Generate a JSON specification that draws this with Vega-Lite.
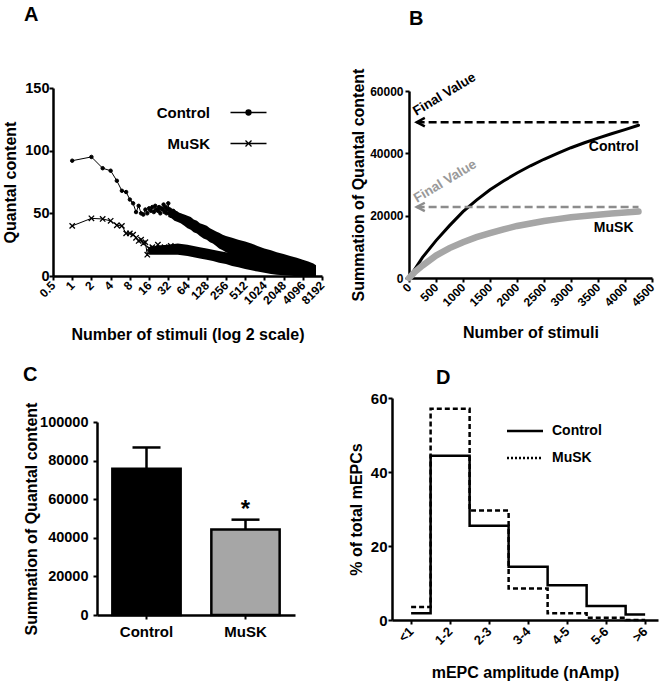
{
  "$schema": "https://vega.github.io/schema/vega-lite/v6.json",
  "background": "white",
  "padding": {"left": 2, "top": 5, "right": 2, "bottom": 2},
  "config": {
    "font": "Liberation Sans",
    "view": {"stroke": null},
    "axis": {"domainColor": "black", "domainWidth": 2.5, "tickColor": "black", "tickWidth": 2, "tickSize": 4, "labelColor": "black", "labelFontWeight": "bold", "labelFont": "Liberation Sans", "titleFont": "Liberation Sans", "titleFontSize": 16, "titleFontWeight": "bold", "titleColor": "black", "grid": false, "labelPadding": 2, "labelOverlap": false, "labelFlush": false},
    "title": {"font": "Liberation Sans", "fontSize": 20, "fontWeight": "bold", "anchor": "start", "frame": "group", "color": "black", "baseline": "alphabetic"},
    "legend": {"labelFont": "Liberation Sans", "labelFontWeight": "bold", "labelColor": "black", "labelFontSize": 14}
  },
  "datasets": {
    "aPts": [
      {"s": "Control", "n": 1, "q": 92}, {"s": "Control", "n": 2, "q": 95}, {"s": "Control", "n": 3, "q": 86}, {"s": "Control", "n": 4, "q": 84}, {"s": "Control", "n": 5, "q": 76}, {"s": "Control", "n": 6, "q": 68}, {"s": "Control", "n": 7, "q": 67}, {"s": "Control", "n": 8, "q": 61}, {"s": "Control", "n": 9, "q": 58}, {"s": "Control", "n": 10, "q": 51}, {"s": "Control", "n": 11, "q": 56}, {"s": "Control", "n": 12, "q": 50}, {"s": "Control", "n": 13, "q": 49}, {"s": "Control", "n": 14, "q": 53}, {"s": "Control", "n": 15, "q": 50}, {"s": "Control", "n": 16, "q": 54}, {"s": "Control", "n": 17, "q": 52}, {"s": "Control", "n": 18, "q": 55}, {"s": "Control", "n": 19, "q": 51}, {"s": "Control", "n": 20, "q": 56}, {"s": "Control", "n": 21, "q": 53}, {"s": "Control", "n": 22, "q": 52}, {"s": "Control", "n": 23, "q": 55}, {"s": "Control", "n": 24, "q": 50}, {"s": "Control", "n": 25, "q": 54}, {"s": "Control", "n": 26, "q": 53}, {"s": "Control", "n": 27, "q": 57}, {"s": "Control", "n": 28, "q": 51}, {"s": "Control", "n": 29, "q": 55}, {"s": "Control", "n": 30, "q": 50}, {"s": "Control", "n": 31, "q": 53}, {"s": "Control", "n": 32, "q": 58}, {"s": "Control", "n": 33, "q": 50}, {"s": "Control", "n": 34, "q": 53}, {"s": "Control", "n": 36, "q": 48}, {"s": "Control", "n": 38, "q": 52}, {"s": "Control", "n": 40, "q": 47}, {"s": "Control", "n": 43, "q": 50}, {"s": "Control", "n": 46, "q": 46}, {"s": "Control", "n": 50, "q": 48},
      {"s": "MuSK", "n": 1, "q": 40}, {"s": "MuSK", "n": 2, "q": 46}, {"s": "MuSK", "n": 3, "q": 45.5}, {"s": "MuSK", "n": 4, "q": 44}, {"s": "MuSK", "n": 5, "q": 40.5}, {"s": "MuSK", "n": 6, "q": 40}, {"s": "MuSK", "n": 7, "q": 34}, {"s": "MuSK", "n": 8, "q": 34}, {"s": "MuSK", "n": 9, "q": 33}, {"s": "MuSK", "n": 10, "q": 30.5}, {"s": "MuSK", "n": 11, "q": 28}, {"s": "MuSK", "n": 12, "q": 29}, {"s": "MuSK", "n": 13, "q": 26}, {"s": "MuSK", "n": 14, "q": 27}, {"s": "MuSK", "n": 15, "q": 17}, {"s": "MuSK", "n": 16, "q": 22}, {"s": "MuSK", "n": 17, "q": 21}, {"s": "MuSK", "n": 18, "q": 23}, {"s": "MuSK", "n": 19, "q": 20}, {"s": "MuSK", "n": 20, "q": 22}, {"s": "MuSK", "n": 21, "q": 21}, {"s": "MuSK", "n": 22, "q": 25}, {"s": "MuSK", "n": 23, "q": 20}, {"s": "MuSK", "n": 24, "q": 22}, {"s": "MuSK", "n": 26, "q": 21}, {"s": "MuSK", "n": 28, "q": 23}, {"s": "MuSK", "n": 30, "q": 20}, {"s": "MuSK", "n": 32, "q": 22}, {"s": "MuSK", "n": 35, "q": 24}, {"s": "MuSK", "n": 38, "q": 21}, {"s": "MuSK", "n": 42, "q": 23}, {"s": "MuSK", "n": 46, "q": 21}
    ],
    "aBand": [
      {"s": "Control", "n": 32, "lo": 47, "hi": 56}, {"s": "Control", "n": 36, "lo": 46, "hi": 53}, {"s": "Control", "n": 40, "lo": 44, "hi": 53}, {"s": "Control", "n": 45, "lo": 43, "hi": 51}, {"s": "Control", "n": 50, "lo": 42, "hi": 50}, {"s": "Control", "n": 57, "lo": 40, "hi": 49}, {"s": "Control", "n": 64, "lo": 38, "hi": 48}, {"s": "Control", "n": 72, "lo": 37, "hi": 47}, {"s": "Control", "n": 80, "lo": 35, "hi": 45}, {"s": "Control", "n": 90, "lo": 34, "hi": 44}, {"s": "Control", "n": 100, "lo": 32, "hi": 42}, {"s": "Control", "n": 114, "lo": 30, "hi": 41}, {"s": "Control", "n": 128, "lo": 29, "hi": 40}, {"s": "Control", "n": 144, "lo": 27, "hi": 38}, {"s": "Control", "n": 160, "lo": 26, "hi": 37}, {"s": "Control", "n": 180, "lo": 24, "hi": 35.5}, {"s": "Control", "n": 200, "lo": 22, "hi": 34.5}, {"s": "Control", "n": 228, "lo": 20.5, "hi": 33}, {"s": "Control", "n": 256, "lo": 19, "hi": 32}, {"s": "Control", "n": 320, "lo": 17, "hi": 30.5}, {"s": "Control", "n": 400, "lo": 16, "hi": 29}, {"s": "Control", "n": 512, "lo": 14.5, "hi": 27.5}, {"s": "Control", "n": 640, "lo": 13, "hi": 26}, {"s": "Control", "n": 800, "lo": 11.5, "hi": 24}, {"s": "Control", "n": 1024, "lo": 10, "hi": 22}, {"s": "Control", "n": 1300, "lo": 8.5, "hi": 20.5}, {"s": "Control", "n": 1600, "lo": 7, "hi": 19}, {"s": "Control", "n": 2048, "lo": 6, "hi": 17.5}, {"s": "Control", "n": 2600, "lo": 5, "hi": 16}, {"s": "Control", "n": 3300, "lo": 4, "hi": 14.5}, {"s": "Control", "n": 4096, "lo": 3, "hi": 13}, {"s": "Control", "n": 5000, "lo": 2, "hi": 11.5}, {"s": "Control", "n": 6000, "lo": 1, "hi": 10}, {"s": "Control", "n": 6600, "lo": 0.5, "hi": 8.5},
      {"s": "MuSK", "n": 16, "lo": 17, "hi": 23}, {"s": "MuSK", "n": 20, "lo": 17, "hi": 24}, {"s": "MuSK", "n": 24, "lo": 17, "hi": 24.5}, {"s": "MuSK", "n": 32, "lo": 17, "hi": 25}, {"s": "MuSK", "n": 45, "lo": 17, "hi": 26}, {"s": "MuSK", "n": 64, "lo": 16, "hi": 25}, {"s": "MuSK", "n": 80, "lo": 15, "hi": 24}, {"s": "MuSK", "n": 100, "lo": 14, "hi": 23}, {"s": "MuSK", "n": 128, "lo": 13, "hi": 22}, {"s": "MuSK", "n": 160, "lo": 12, "hi": 21}, {"s": "MuSK", "n": 200, "lo": 10.5, "hi": 20}, {"s": "MuSK", "n": 256, "lo": 9.5, "hi": 19}, {"s": "MuSK", "n": 320, "lo": 8, "hi": 18}, {"s": "MuSK", "n": 400, "lo": 7, "hi": 17}, {"s": "MuSK", "n": 512, "lo": 5.5, "hi": 16}, {"s": "MuSK", "n": 640, "lo": 4.5, "hi": 15}, {"s": "MuSK", "n": 800, "lo": 3.5, "hi": 14}, {"s": "MuSK", "n": 1024, "lo": 2.5, "hi": 13}, {"s": "MuSK", "n": 1300, "lo": 1.5, "hi": 12}, {"s": "MuSK", "n": 1600, "lo": 1, "hi": 11}, {"s": "MuSK", "n": 2048, "lo": 0.5, "hi": 10}, {"s": "MuSK", "n": 3000, "lo": 0, "hi": 8.5}, {"s": "MuSK", "n": 4096, "lo": 0, "hi": 7}, {"s": "MuSK", "n": 5000, "lo": 0, "hi": 6}, {"s": "MuSK", "n": 6600, "lo": 0, "hi": 5}
    ],
    "bCurve": [
      {"s": "Control", "n": 0, "v": 0}, {"s": "Control", "n": 100, "v": 2600}, {"s": "Control", "n": 250, "v": 6600}, {"s": "Control", "n": 500, "v": 12000}, {"s": "Control", "n": 750, "v": 16800}, {"s": "Control", "n": 1000, "v": 21300}, {"s": "Control", "n": 1250, "v": 25000}, {"s": "Control", "n": 1500, "v": 28300}, {"s": "Control", "n": 1750, "v": 31100}, {"s": "Control", "n": 2000, "v": 33700}, {"s": "Control", "n": 2250, "v": 36000}, {"s": "Control", "n": 2500, "v": 38100}, {"s": "Control", "n": 2750, "v": 40000}, {"s": "Control", "n": 3000, "v": 41800}, {"s": "Control", "n": 3250, "v": 43400}, {"s": "Control", "n": 3500, "v": 44900}, {"s": "Control", "n": 3750, "v": 46300}, {"s": "Control", "n": 4000, "v": 47600}, {"s": "Control", "n": 4250, "v": 49000},
      {"s": "MuSK", "n": 0, "v": 0}, {"s": "MuSK", "n": 100, "v": 1800}, {"s": "MuSK", "n": 250, "v": 4000}, {"s": "MuSK", "n": 500, "v": 7200}, {"s": "MuSK", "n": 750, "v": 9600}, {"s": "MuSK", "n": 1000, "v": 11500}, {"s": "MuSK", "n": 1250, "v": 13100}, {"s": "MuSK", "n": 1500, "v": 14400}, {"s": "MuSK", "n": 1750, "v": 15600}, {"s": "MuSK", "n": 2000, "v": 16700}, {"s": "MuSK", "n": 2250, "v": 17500}, {"s": "MuSK", "n": 2500, "v": 18300}, {"s": "MuSK", "n": 2750, "v": 18900}, {"s": "MuSK", "n": 3000, "v": 19500}, {"s": "MuSK", "n": 3250, "v": 19900}, {"s": "MuSK", "n": 3500, "v": 20300}, {"s": "MuSK", "n": 3750, "v": 20700}, {"s": "MuSK", "n": 4000, "v": 21000}, {"s": "MuSK", "n": 4250, "v": 21300}
    ],
    "bFinal": [
      {"s": "Control", "from": 141, "to": 4250, "v": 50000, "t": "Final Value", "tn": 655, "tv": 58900},
      {"s": "MuSK", "from": 141, "to": 4250, "v": 22800, "t": "Final Value", "tn": 670, "tv": 31000}
    ],
    "bLabels": [
      {"t": "Control", "n": 3790, "v": 41900},
      {"t": "MuSK", "n": 3790, "v": 15950}
    ],
    "cBars": [
      {"g": "Control", "mean": 75800, "hi": 86800, "sig": ""},
      {"g": "MuSK", "mean": 44300, "hi": 49400, "sig": "*"}
    ],
    "dHist": [
      {"grp": "Control", "cat": "<1", "i": 0, "pct": 1.8}, {"grp": "Control", "cat": "1-2", "i": 1, "pct": 44.4}, {"grp": "Control", "cat": "2-3", "i": 2, "pct": 25.5}, {"grp": "Control", "cat": "3-4", "i": 3, "pct": 14.4}, {"grp": "Control", "cat": "4-5", "i": 4, "pct": 9.4}, {"grp": "Control", "cat": "5-6", "i": 5, "pct": 3.8}, {"grp": "Control", "cat": ">6", "i": 6, "pct": 1.5},
      {"grp": "MuSK", "cat": "<1", "i": 0, "pct": 3.5}, {"grp": "MuSK", "cat": "1-2", "i": 1, "pct": 57.1}, {"grp": "MuSK", "cat": "2-3", "i": 2, "pct": 29.6}, {"grp": "MuSK", "cat": "3-4", "i": 3, "pct": 8.5}, {"grp": "MuSK", "cat": "4-5", "i": 4, "pct": 1.8}, {"grp": "MuSK", "cat": "5-6", "i": 5, "pct": 0.6}, {"grp": "MuSK", "cat": ">6", "i": 6, "pct": 0}
    ]
  },
  "columns": 1,
  "align": "none",
  "spacing": 22,
  "resolve": {"scale": {"shape": "independent", "color": "independent", "strokeWidth": "independent"}, "legend": {"shape": "independent"}},
  "concat": [
    {
      "columns": 2,
      "align": "none",
      "spacing": 23,
      "resolve": {"scale": {"shape": "independent", "color": "independent", "strokeWidth": "independent"}, "legend": {"shape": "independent"}},
      "concat": [
        {
          "width": 269, "height": 188,
          "title": {"text": "A", "dx": -29, "offset": 55},
          "layer": [
            {
              "data": {"name": "aBand"},
              "mark": {"type": "area", "color": "black", "opacity": 1},
              "encoding": {
                "x": {"field": "n", "type": "quantitative", "scale": {"type": "log", "base": 2, "domain": [0.5, 8192], "nice": false},
                  "axis": {"values": [0.5, 1, 2, 4, 8, 16, 32, 64, 128, 256, 512, 1024, 2048, 4096, 8192], "labelExpr": "'' + datum.value", "labelAngle": -45, "labelAlign": "right", "labelBaseline": "middle", "labelFontSize": 12, "labelPadding": 3, "labelOverlap": false, "title": "Number of stimuli (log 2 scale)", "titlePadding": 20}},
                "y": {"field": "lo", "type": "quantitative", "scale": {"domain": [0, 150], "nice": false},
                  "axis": {"values": [0, 50, 100, 150], "labelFontSize": 14.5, "labelPadding": 0, "labelOverlap": false, "title": "Quantal content", "titlePadding": 6}},
                "y2": {"field": "hi"},
                "detail": {"field": "s"}
              }
            },
            {
              "data": {"name": "aPts"},
              "mark": {"type": "line", "color": "black", "strokeWidth": 1},
              "encoding": {
                "x": {"field": "n", "type": "quantitative"},
                "y": {"field": "q", "type": "quantitative"},
                "detail": {"field": "s"}
              }
            },
            {
              "data": {"name": "aPts"},
              "transform": [{"filter": "datum.s === 'Control'"}],
              "mark": {"type": "point", "filled": true, "color": "black", "stroke": "black", "strokeWidth": 1, "opacity": 1, "size": 12, "shape": "circle"},
              "encoding": {
                "x": {"field": "n", "type": "quantitative"},
                "y": {"field": "q", "type": "quantitative"}
              }
            },
            {
              "data": {"name": "aPts"},
              "transform": [{"filter": "datum.s === 'MuSK'"}],
              "mark": {"type": "point", "filled": false, "color": "black", "strokeWidth": 1.3, "opacity": 1, "size": 10, "shape": "M-1.7,-1.7L1.7,1.7M-1.7,1.7L1.7,-1.7"},
              "encoding": {
                "x": {"field": "n", "type": "quantitative"},
                "y": {"field": "q", "type": "quantitative"}
              }
            },
            {
              "data": {"name": "aPts"},
              "transform": [{"filter": "datum.n < 0"}],
              "mark": {"type": "point", "filled": false, "color": "black", "strokeWidth": 1.3, "opacity": 1, "size": 100},
              "encoding": {
                "x": {"field": "n", "type": "quantitative"},
                "y": {"field": "q", "type": "quantitative"},
                "shape": {"field": "s", "type": "nominal",
                  "scale": {"domain": ["Control", "MuSK"], "range": ["M-3.6,0L3.6,0M0.5,0A0.5,0.5,0,1,1,-0.5,0A0.5,0.5,0,1,1,0.5,0M0.25,0A0.25,0.25,0,1,1,-0.25,0A0.25,0.25,0,1,1,0.25,0M0,-0.12L0,0.12", "M-3.6,0L3.6,0M-0.6,-0.6L0.6,0.6M-0.6,0.6L0.6,-0.6"]},
                  "legend": {"orient": "none", "legendX": 188, "legendY": 17, "title": null, "padding": 0,
                    "labelAlign": "right", "labelOffset": -46, "labelFontSize": 15, "labelBaseline": "middle",
                    "symbolSize": 100, "symbolStrokeWidth": 1.3, "symbolStrokeColor": "black", "symbolOpacity": 1, "rowPadding": 15}
                }
              }
            }
          ]
        },
        {
          "width": 243, "height": 190,
          "title": {"text": "B", "dx": 0, "offset": 39.5},
          "resolve": {"scale": {"color": "independent"}},
          "layer": [
            {
              "data": {"name": "bCurve"},
              "mark": {"type": "line", "strokeCap": "round"},
              "encoding": {
                "x": {"field": "n", "type": "quantitative", "scale": {"domain": [0, 4500], "nice": false},
                  "axis": {"values": [0, 500, 1000, 1500, 2000, 2500, 3000, 3500, 4000, 4500], "format": "d", "labelAngle": -45, "labelAlign": "right", "labelBaseline": "middle", "labelFontSize": 12, "labelPadding": 3, "labelOverlap": false, "title": "Number of stimuli", "titlePadding": 16}},
                "y": {"field": "v", "type": "quantitative", "scale": {"domain": [0, 60000], "nice": false, "range": [190, 3]},
                  "axis": {"values": [0, 20000, 40000, 60000], "format": "d", "labelFontSize": 12, "labelOverlap": false, "title": "Summation of Quantal content", "titlePadding": 3}},
                "color": {"field": "s", "type": "nominal", "scale": {"domain": ["Control", "MuSK"], "range": ["black", "#a6a6a6"]}, "legend": null},
                "strokeWidth": {"field": "s", "type": "nominal", "scale": {"domain": ["Control", "MuSK"], "range": [3, 6.5]}, "legend": null}
              }
            },
            {
              "data": {"name": "bFinal"},
              "mark": {"type": "rule", "strokeWidth": 2.5, "strokeDash": [8, 4]},
              "encoding": {
                "x": {"field": "from", "type": "quantitative", "axis": {"values": [0, 500, 1000, 1500, 2000, 2500, 3000, 3500, 4000, 4500], "format": "d", "labelAngle": -45, "labelAlign": "right", "labelBaseline": "middle", "labelFontSize": 12, "labelPadding": 3, "labelOverlap": false, "title": "Number of stimuli", "titlePadding": 16}},
                "x2": {"field": "to"},
                "y": {"field": "v", "type": "quantitative", "axis": {"values": [0, 20000, 40000, 60000], "format": "d", "labelFontSize": 12, "labelOverlap": false, "title": "Summation of Quantal content", "titlePadding": 3}},
                "color": {"field": "s", "type": "nominal", "scale": {"domain": ["Control", "MuSK"], "range": ["black", "#8c8c8c"]}, "legend": null}
              }
            },
            {
              "data": {"name": "bFinal"},
              "mark": {"type": "point", "filled": false, "strokeWidth": 2.5, "opacity": 1, "size": 49, "shape": "M1.2,-1.2L-1.1,0L1.2,1.2", "xOffset": 4},
              "encoding": {
                "x": {"field": "from", "type": "quantitative", "axis": {"values": [0, 500, 1000, 1500, 2000, 2500, 3000, 3500, 4000, 4500], "format": "d", "labelAngle": -45, "labelAlign": "right", "labelBaseline": "middle", "labelFontSize": 12, "labelPadding": 3, "labelOverlap": false, "title": "Number of stimuli", "titlePadding": 16}},
                "y": {"field": "v", "type": "quantitative", "axis": {"values": [0, 20000, 40000, 60000], "format": "d", "labelFontSize": 12, "labelOverlap": false, "title": "Summation of Quantal content", "titlePadding": 3}},
                "color": {"field": "s", "type": "nominal", "scale": {"domain": ["Control", "MuSK"], "range": ["black", "#8c8c8c"]}, "legend": null}
              }
            },
            {
              "data": {"name": "bFinal"},
              "mark": {"type": "text", "angle": -31, "fontSize": 13.5, "fontWeight": "bold", "align": "center", "baseline": "middle"},
              "encoding": {
                "x": {"field": "tn", "type": "quantitative", "axis": {"values": [0, 500, 1000, 1500, 2000, 2500, 3000, 3500, 4000, 4500], "format": "d", "labelAngle": -45, "labelAlign": "right", "labelBaseline": "middle", "labelFontSize": 12, "labelPadding": 3, "labelOverlap": false, "title": "Number of stimuli", "titlePadding": 16}},
                "y": {"field": "tv", "type": "quantitative", "axis": {"values": [0, 20000, 40000, 60000], "format": "d", "labelFontSize": 12, "labelOverlap": false, "title": "Summation of Quantal content", "titlePadding": 3}},
                "text": {"field": "t"},
                "color": {"field": "s", "type": "nominal", "scale": {"domain": ["Control", "MuSK"], "range": ["black", "#999999"]}, "legend": null}
              }
            },
            {
              "data": {"name": "bLabels"},
              "mark": {"type": "text", "fontSize": 14, "fontWeight": "bold", "align": "center", "baseline": "middle", "color": "black"},
              "encoding": {
                "x": {"field": "n", "type": "quantitative", "axis": {"values": [0, 500, 1000, 1500, 2000, 2500, 3000, 3500, 4000, 4500], "format": "d", "labelAngle": -45, "labelAlign": "right", "labelBaseline": "middle", "labelFontSize": 12, "labelPadding": 3, "labelOverlap": false, "title": "Number of stimuli", "titlePadding": 16}},
                "y": {"field": "v", "type": "quantitative", "axis": {"values": [0, 20000, 40000, 60000], "format": "d", "labelFontSize": 12, "labelOverlap": false, "title": "Summation of Quantal content", "titlePadding": 3}},
                "text": {"field": "t"}
              }
            }
          ]
        }
      ]
    },
    {
      "columns": 2,
      "align": "none",
      "spacing": 53,
      "resolve": {"scale": {"shape": "independent", "color": "independent"}, "legend": {"shape": "independent"}},
      "concat": [
        {
          "width": 242, "height": 217,
          "title": {"text": "C", "dx": -30, "offset": 13},
          "data": {"name": "cBars"},
          "layer": [
            {
              "mark": {"type": "bar", "stroke": "black", "strokeWidth": 2.5},
              "encoding": {
                "x": {"field": "g", "type": "nominal", "sort": null, "scale": {"paddingInner": 0.31, "range": [44, 242]},
                  "axis": {"labelAngle": 0, "labelFontSize": 15, "labelPadding": 5, "title": null}},
                "y": {"field": "mean", "type": "quantitative", "scale": {"domain": [0, 100000], "nice": false, "range": [217, 24]},
                  "axis": {"offset": -44, "values": [0, 20000, 40000, 60000, 80000, 100000], "format": "d", "labelFontSize": 14.5, "labelPadding": 5, "labelOverlap": false, "title": "Summation of Quantal content", "titlePadding": 0}},
                "color": {"field": "g", "type": "nominal", "scale": {"domain": ["Control", "MuSK"], "range": ["black", "#a6a6a6"]}, "legend": null}
              }
            },
            {
              "mark": {"type": "rule", "strokeWidth": 2.5, "color": "black"},
              "encoding": {
                "x": {"field": "g", "type": "nominal", "sort": null, "axis": {"labelAngle": 0, "labelFontSize": 15, "labelPadding": 5, "title": null}},
                "y": {"field": "mean", "type": "quantitative", "axis": {"offset": -44, "values": [0, 20000, 40000, 60000, 80000, 100000], "format": "d", "labelFontSize": 14.5, "labelPadding": 5, "labelOverlap": false, "title": "Summation of Quantal content", "titlePadding": 0}},
                "y2": {"field": "hi"}
              }
            },
            {
              "mark": {"type": "tick", "thickness": 2.5, "size": 28, "color": "black", "opacity": 1},
              "encoding": {
                "x": {"field": "g", "type": "nominal", "sort": null, "axis": {"labelAngle": 0, "labelFontSize": 15, "labelPadding": 5, "title": null}},
                "y": {"field": "hi", "type": "quantitative", "axis": {"offset": -44, "values": [0, 20000, 40000, 60000, 80000, 100000], "format": "d", "labelFontSize": 14.5, "labelPadding": 5, "labelOverlap": false, "title": "Summation of Quantal content", "titlePadding": 0}}
              }
            },
            {
              "mark": {"type": "text", "fontSize": 24, "fontWeight": "bold", "baseline": "bottom", "dy": 2, "color": "black"},
              "encoding": {
                "x": {"field": "g", "type": "nominal", "sort": null, "axis": {"labelAngle": 0, "labelFontSize": 15, "labelPadding": 5, "title": null}},
                "y": {"field": "hi", "type": "quantitative", "axis": {"offset": -44, "values": [0, 20000, 40000, 60000, 80000, 100000], "format": "d", "labelFontSize": 14.5, "labelPadding": 5, "labelOverlap": false, "title": "Summation of Quantal content", "titlePadding": 0}},
                "text": {"field": "sig"}
              }
            }
          ]
        },
        {
          "width": 266, "height": 222,
          "title": {"text": "D", "dx": 44, "dy": 12, "offset": 15},
          "data": {"name": "dHist"},
          "layer": [
            {
              "transform": [{"filter": "datum.grp === 'Control'"}],
              "mark": {"type": "line", "interpolate": "step", "strokeWidth": 2.5, "color": "black"},
              "encoding": {
                "x": {"field": "i", "type": "quantitative", "scale": {"domain": [-0.49, 6.33], "nice": false, "zero": false},
                  "axis": {"values": [0, 1, 2, 3, 4, 5, 6], "labelExpr": "['<1','1-2','2-3','3-4','4-5','5-6','>6'][datum.value]", "labelAngle": -45, "labelAlign": "right", "labelBaseline": "middle", "labelFontSize": 13, "labelPadding": 5, "labelOverlap": false, "title": "mEPC amplitude (nAmp)", "titlePadding": 17}},
                "y": {"field": "pct", "type": "quantitative", "scale": {"domain": [0, 60], "nice": false},
                  "axis": {"values": [0, 20, 40, 60], "labelFontSize": 15, "labelPadding": 1, "labelOverlap": false, "title": "% of total mEPCs", "titlePadding": 6}}
              }
            },
            {
              "transform": [{"filter": "datum.grp === 'MuSK'"}],
              "mark": {"type": "line", "interpolate": "step", "strokeWidth": 2.5, "color": "black", "strokeDash": [5, 3]},
              "encoding": {
                "x": {"field": "i", "type": "quantitative",
                  "axis": {"values": [0, 1, 2, 3, 4, 5, 6], "labelExpr": "['<1','1-2','2-3','3-4','4-5','5-6','>6'][datum.value]", "labelAngle": -45, "labelAlign": "right", "labelBaseline": "middle", "labelFontSize": 13, "labelPadding": 5, "labelOverlap": false, "title": "mEPC amplitude (nAmp)", "titlePadding": 17}},
                "y": {"field": "pct", "type": "quantitative",
                  "axis": {"values": [0, 20, 40, 60], "labelFontSize": 15, "labelPadding": 1, "labelOverlap": false, "title": "% of total mEPCs", "titlePadding": 6}}
              }
            },
            {
              "transform": [{"filter": "datum.i < 0"}],
              "mark": {"type": "point", "filled": false, "color": "black", "strokeWidth": 2.5, "opacity": 1, "size": 100},
              "encoding": {
                "x": {"field": "i", "type": "quantitative"},
                "y": {"field": "pct", "type": "quantitative"},
                "shape": {"field": "grp", "type": "nominal",
                  "scale": {"domain": ["Control", "MuSK"], "range": ["M-3.6,0L3.6,0", "M-3.6,0L-3.2,0M-2.8,0L-2.4,0M-2,0L-1.6,0M-1.2,0L-0.8,0M-0.4,0L0,0M0.4,0L0.8,0M1.2,0L1.6,0M2,0L2.4,0M2.8,0L3.2,0"]},
                  "legend": {"orient": "none", "legendX": 126, "legendY": 26, "title": null, "padding": 0, "labelOffset": 20, "labelFontSize": 14, "labelBaseline": "middle", "symbolSize": 100, "symbolStrokeWidth": 2.5, "symbolStrokeColor": "black", "symbolOpacity": 1, "rowPadding": 13}
                }
              }
            }
          ]
        }
      ]
    }
  ]
}
